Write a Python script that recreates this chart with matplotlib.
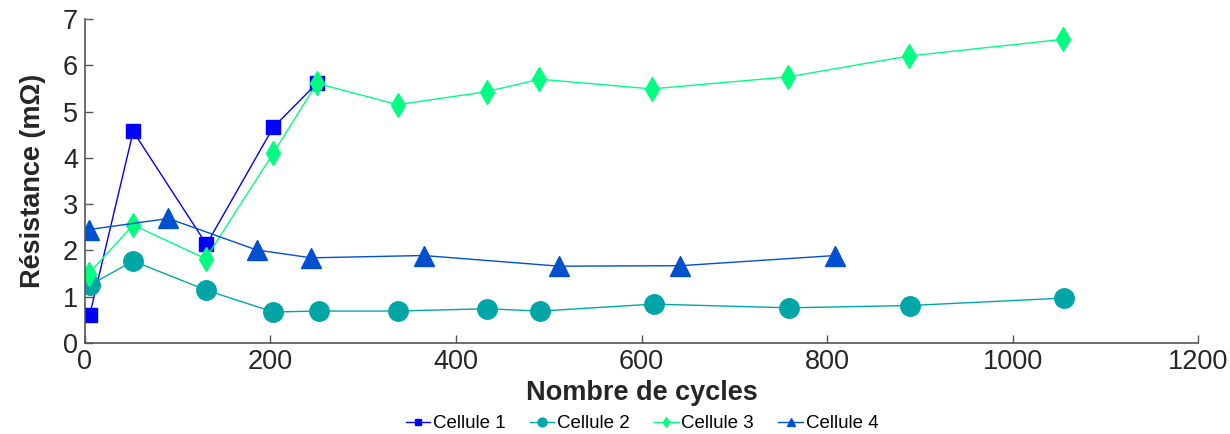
import matplotlib
matplotlib.use("Agg")
import matplotlib.pyplot as plt

plt.rcParams['font.family'] = ['Liberation Sans', 'DejaVu Sans']

x1 = [5, 52, 131, 203, 250]
y1 = [0.60, 4.57, 2.13, 4.66, 5.61]

x2 = [5, 52, 131, 203, 252, 337, 433, 491, 613, 759, 890, 1055]
y2 = [1.25, 1.77, 1.14, 0.67, 0.69, 0.69, 0.74, 0.69, 0.84, 0.76, 0.81, 0.97]

x3 = [4, 52, 130, 203, 250, 337, 433, 490, 611, 758, 888, 1054]
y3 = [1.50, 2.55, 1.82, 4.10, 5.61, 5.15, 5.43, 5.70, 5.49, 5.75, 6.20, 6.56]

x4 = [4, 90, 185, 244, 365, 511, 642, 809]
y4 = [2.45, 2.69, 2.01, 1.84, 1.89, 1.66, 1.67, 1.89]

labels = ['Cellule 1', 'Cellule 2', 'Cellule 3', 'Cellule 4']
colors = ['#0000FF', '#00A6A6', '#00FF80', '#0050D0']

fig = plt.figure(figsize=(12.3, 4.34), dpi=100)
ax = fig.add_axes([0.0691, 0.2097, 0.9049, 0.7465])

ax.plot(x1, y1, '-s', color=colors[0], lw=1, ms=10, label=labels[0])
ax.plot(x2, y2, '-o', color=colors[1], lw=1, ms=14, label=labels[1])
ax.plot(x3, y3, '-d', color=colors[2], lw=1, ms=12, label=labels[2])
ax.plot(x4, y4, '-^', color=colors[3], lw=1, ms=14, label=labels[3])

ax.set_xlim(0, 1200)
ax.set_ylim(0, 7)
ax.set_xticks(range(0, 1201, 200))
ax.set_yticks(range(0, 8))
ax.spines['top'].set_visible(False)
ax.spines['right'].set_visible(False)
for s in ['left', 'bottom']:
    ax.spines[s].set_color('#555555')
    ax.spines[s].set_linewidth(1.2)
ax.tick_params(direction='in', length=6, width=1, colors='#555555',
               labelsize=19.5, labelcolor='#262626')
ax.tick_params(axis='y', pad=5)
ax.tick_params(axis='x', pad=4)

ax.set_xlabel('Nombre de cycles', fontsize=19.5, fontweight='bold', color='#262626', labelpad=4)
ax.set_ylabel('Résistance (mΩ)', fontsize=19.5, fontweight='bold', color='#262626', labelpad=12)

leg = fig.legend(loc='lower center', bbox_to_anchor=(0.522, -0.035), ncol=4, frameon=False,
                 fontsize=13.5, handlelength=1.3, handletextpad=0.15, columnspacing=1.3,
                 markerscale=0.45)

fig.savefig('out.png', dpi=100)
